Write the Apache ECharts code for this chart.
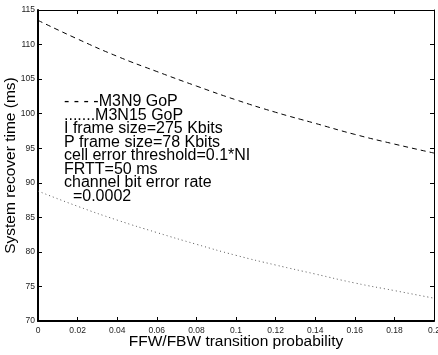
<!DOCTYPE html>
<html>
<head>
<meta charset="utf-8">
<script src="https://cdn.jsdelivr.net/npm/echarts@6/dist/echarts.min.js"></script>
<style>
html, body { margin: 0; padding: 0; background: #fff; }
#P1 { width: 438px; height: 355px; }
</style>
</head>
<body>
<div id="P1"></div>
<script>
var probs = [0, 0.02, 0.04, 0.06, 0.08, 0.1, 0.12, 0.14, 0.16, 0.18, 0.2];
var m3n9 = [113.5, 110.8, 108.3, 106.1, 104.0, 102.0, 100.2, 98.6, 97.0, 95.6, 94.3];
var m3n15 = [88.8, 86.6, 84.6, 82.8, 81.1, 79.5, 78.1, 76.8, 75.5, 74.4, 73.3];
var notes = [
	'- - - -M3N9 GoP',
	'.......M3N15 GoP',
	'I frame size=275 Kbits',
	'P frame size=78 Kbits',
	'cell error threshold=0.1*NI',
	'FRTT=50 ms',
	'channel bit error rate',
	'  =0.0002'
];

function pairs(xs, ys) {
	var out = [];
	for (var i = 0; i < xs.length; i++) {
		out.push([xs[i], ys[i]]);
	}
	return out;
}

var myChart = echarts.init(document.getElementById('P1'));
var font = 'Liberation Sans, Arial, sans-serif';
var option = {
	animation: false,
	backgroundColor: '#fff',
	grid: { left: 38, right: 4, top: 10, bottom: 34, containLabel: false, outerBoundsMode: 'none' },
	xAxis: [{
		type: 'value',
		min: 0, max: 0.2, interval: 0.02,
		name: 'FFW/FBW transition probability',
		nameLocation: 'middle',
		nameGap: 13,
		nameMoveOverlap: false,
		nameTextStyle: { color: '#000', fontSize: 15.5, fontFamily: font },
		axisLine: { onZero: false, lineStyle: { color: '#000', width: 2 } },
		axisTick: { inside: true, length: 4, lineStyle: { color: '#000' } },
		axisLabel: { color: '#222', fontSize: 8.5, margin: 5, fontFamily: font,
			formatter: function (v) { return String(+v.toFixed(2)); } },
		splitLine: { show: false }
	}, {
		type: 'value', position: 'top',
		min: 0, max: 0.2, interval: 0.02,
		axisLine: { onZero: false, lineStyle: { color: '#000', width: 1 } },
		axisTick: { inside: true, length: 4, lineStyle: { color: '#000' } },
		axisLabel: { show: false },
		splitLine: { show: false }
	}],
	yAxis: [{
		type: 'value',
		min: 70, max: 115, interval: 5,
		name: 'System recover time (ms)',
		nameLocation: 'middle',
		nameGap: 19,
		nameMoveOverlap: false,
		nameTextStyle: { color: '#000', fontSize: 15.5, fontFamily: font },
		axisLine: { onZero: false, lineStyle: { color: '#000', width: 2 } },
		axisTick: { inside: true, length: 4, lineStyle: { color: '#000' } },
		axisLabel: { color: '#222', fontSize: 8.5, margin: 3, fontFamily: font },
		splitLine: { show: false }
	}, {
		type: 'value', position: 'right',
		min: 70, max: 115, interval: 5,
		axisLine: { onZero: false, lineStyle: { color: '#000', width: 1 } },
		axisTick: { inside: true, length: 4, lineStyle: { color: '#000' } },
		axisLabel: { show: false },
		splitLine: { show: false }
	}],
	graphic: [{
		type: 'text',
		left: 64,
		top: 94,
		style: {
			text: notes.join('\n'),
			fill: '#000',
			font: '16px ' + font,
			lineHeight: 13.5
		}
	}],
	series: [{
		name: 'M3N9 GoP',
		type: 'line',
		smooth: true,
		showSymbol: false,
		lineStyle: { color: '#000', width: 1, type: [5, 4] },
		data: pairs(probs, m3n9)
	}, {
		name: 'M3N15 GoP',
		type: 'line',
		smooth: true,
		showSymbol: false,
		lineStyle: { color: '#555', width: 1, type: [1, 3] },
		data: pairs(probs, m3n15)
	}]
};
myChart.setOption(option);
</script>
</body>
</html>
